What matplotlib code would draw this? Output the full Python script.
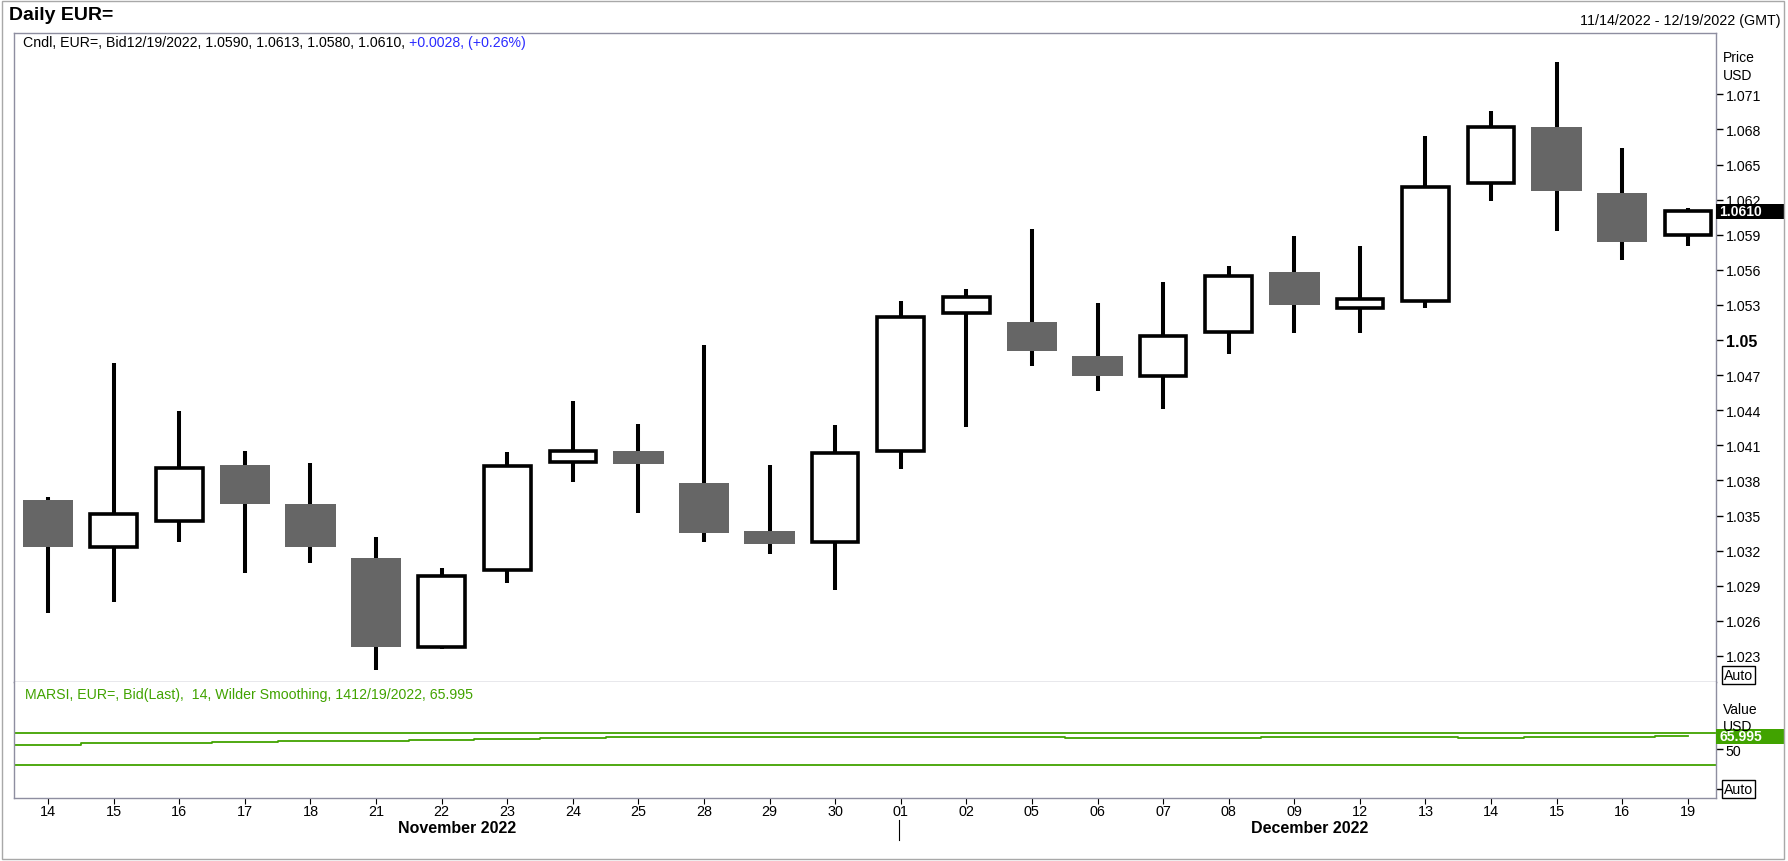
import numpy as np
import matplotlib
matplotlib.use("Agg")
import matplotlib.pyplot as plt
import matplotlib.transforms as mtransforms
from matplotlib.patches import Rectangle

plt.rcParams['font.family'] = ['Liberation Sans', 'DejaVu Sans']

# daily EUR= bid candles, 14 Nov - 19 Dec 2022
days = ["14", "15", "16", "17", "18", "21", "22", "23", "24", "25", "28", "29", "30",
        "01", "02", "05", "06", "07", "08", "09", "12", "13", "14", "15", "16", "19"]
opens = [1.0363, 1.0323, 1.0345, 1.0393, 1.0360, 1.0314, 1.0238, 1.0303, 1.0396, 1.0405, 1.0378, 1.0337, 1.0327,
         1.0405, 1.0523, 1.0515, 1.0486, 1.0469, 1.0507, 1.0558, 1.0527, 1.0533, 1.0634, 1.0682, 1.0626, 1.0590]
highs = [1.0366, 1.0480, 1.0439, 1.0405, 1.0395, 1.0332, 1.0305, 1.0404, 1.0448, 1.0428, 1.0496, 1.0393, 1.0427,
         1.0533, 1.0544, 1.0595, 1.0532, 1.0550, 1.0563, 1.0589, 1.0580, 1.0674, 1.0696, 1.0738, 1.0664, 1.0613]
lows = [1.0267, 1.0276, 1.0327, 1.0301, 1.0309, 1.0218, 1.0236, 1.0292, 1.0379, 1.0352, 1.0327, 1.0317, 1.0286,
        1.0390, 1.0426, 1.0478, 1.0456, 1.0441, 1.0488, 1.0506, 1.0506, 1.0527, 1.0619, 1.0593, 1.0568, 1.0580]
closes = [1.0323, 1.0351, 1.0391, 1.0360, 1.0323, 1.0238, 1.0298, 1.0392, 1.0405, 1.0394, 1.0335, 1.0326, 1.0403,
          1.0520, 1.0537, 1.0491, 1.0469, 1.0503, 1.0555, 1.0530, 1.0535, 1.0631, 1.0682, 1.0627, 1.0584, 1.0610]

# MARSI 14 (Wilder smoothing)
rsi = [55.8, 57.5, 57.5, 59.2, 60.4, 60.4, 61.25, 62.5, 63.75, 65.0, 65.0, 65.0, 65.0,
       65.0, 65.0, 65.0, 63.75, 63.75, 63.75, 65.0, 65.0, 65.0, 64.6, 65.9, 65.9, 65.995]
rsi_bands = [70, 30]

price_ticks = [1.023, 1.026, 1.029, 1.032, 1.035, 1.038, 1.041, 1.044, 1.047, 1.05,
               1.053, 1.056, 1.059, 1.062, 1.065, 1.068, 1.071]
price_labels = ["1.023", "1.026", "1.029", "1.032", "1.035", "1.038", "1.041", "1.044", "1.047", "1.05",
                "1.053", "1.056", "1.059", "1.062", "1.065", "1.068", "1.071"]

months = ["November 2022", "December 2022"]
month_centers = [6.23, 19.23]

legend_main = "Cndl, EUR=, Bid12/19/2022, 1.0590, 1.0613, 1.0580, 1.0610,"
legend_change = "+0.0028, (+0.26%)"
legend_rsi = "MARSI, EUR=, Bid(Last),  14, Wilder Smoothing, 1412/19/2022, 65.995"

GREEN = '#41a300'
GRAY_BODY = '#666666'
FRAME = '#8e8ea0'

W, H = 1788, 862


def fx(px):
    return px / W


def fy(py):
    return 1 - py / H


fig = plt.figure(figsize=(W / 100, H / 100), dpi=100)
ax = fig.add_axes([fx(14), fy(683), fx(1716) - fx(14), fy(34) - fy(683)])
ax2 = fig.add_axes([fx(14), fy(799), fx(1716) - fx(14), fy(683) - fy(799)])

x = np.arange(len(days))
o = np.array(opens)
h = np.array(highs)
l = np.array(lows)
c = np.array(closes)
up = c >= o
dn = ~up

# candles
ax.vlines(x, l, h, color='black', linewidth=2.9, zorder=2)
ax.bar(x[dn], (o - c)[dn], bottom=c[dn], width=0.77, color=GRAY_BODY, zorder=3)
ax.bar(x[up], (c - o)[up], bottom=o[up], width=0.71, facecolor='white',
       edgecolor='black', linewidth=2.6, zorder=3)

ax.set_xlim(-0.52, 25.43)
ax.set_ylim(1.02077, 1.07624)
ax.set_xticks([])
ax.yaxis.tick_right()
ax.set_yticks(price_ticks)
ax.set_yticklabels(price_labels)
ax.tick_params(axis='y', direction='out', length=5, width=1, colors='black', labelsize=10.2, pad=2)
for t in ax.get_yticklabels():
    if t.get_text() == "1.05":
        t.set_fontweight('bold')
        t.set_fontsize(11.5)
for s in ax.spines.values():
    s.set_color(FRAME)
    s.set_linewidth(1)

# last price tag
ylo, yhi = ax.get_ylim()
half = 7.8 * (yhi - ylo) / 649
trans = mtransforms.blended_transform_factory(ax.transAxes, ax.transData)
ax.add_patch(Rectangle((1.0, closes[-1] - half), 69 / 1702, 2 * half, transform=trans,
                       facecolor='black', edgecolor='none', clip_on=False, zorder=5))
ax.text(1.0 + 3 / 1702, closes[-1], f"{closes[-1]:.4f}", transform=trans, color='white',
        fontweight='bold', fontsize=10, va='center', ha='left', zorder=6, clip_on=False)

# RSI panel
ax2.set_xlim(-0.52, 25.43)
ax2.set_ylim(-10.9, 134.1)
for b in rsi_bands:
    ax2.axhline(b, color=GREEN, linewidth=1.3)
xs = np.r_[ax2.get_xlim()[0], x]
ys = np.r_[rsi[0], rsi]
ax2.step(xs, ys, where='mid', color=GREEN, linewidth=1.3)

ax2.set_xticks(x)
ax2.set_xticklabels(days)
ax2.tick_params(axis='x', direction='out', length=4, width=0.8, labelsize=10.4, pad=0)
ax2.yaxis.tick_right()
ax2.set_yticks([0, 50])
ax2.set_yticklabels(["", "50"])
ax2.tick_params(axis='y', direction='out', length=5, width=1, labelsize=10.2, pad=2)
for s in ax2.spines.values():
    s.set_color(FRAME)
    s.set_linewidth(1)
ax2.spines['top'].set_visible(False)

trans2 = mtransforms.blended_transform_factory(ax2.transAxes, ax2.transData)
r_lo, r_hi = ax2.get_ylim()
rhalf = 7.6 * (r_hi - r_lo) / 116
ax2.add_patch(Rectangle((1.0, rsi[-1] - rhalf), 69 / 1702, 2 * rhalf, transform=trans2,
                        facecolor=GREEN, edgecolor='none', clip_on=False, zorder=5))
ax2.text(1.0 + 3 / 1702, rsi[-1], f"{rsi[-1]:.3f}", transform=trans2, color='white',
         fontweight='bold', fontsize=10, va='center', ha='left', zorder=6, clip_on=False)

# month labels and divider
for name, mc in zip(months, month_centers):
    ax2.annotate(name, xy=(mc, 0), xycoords=('data', 'axes fraction'), xytext=(0, -30),
                 textcoords='offset pixels', ha='center', va='center',
                 fontweight='bold', fontsize=11.5)
trans3 = mtransforms.blended_transform_factory(ax2.transData, ax2.transAxes)
split = days.index("01")
ax2.plot([split - 0.02, split - 0.02], [-0.19, -0.36], color='black', linewidth=0.8,
         transform=trans3, clip_on=False)

# header and legends
fig.text(fx(9), fy(15), "Daily EUR=", fontsize=14, fontweight='bold', va='center')
fig.text(fx(1781), fy(21), "11/14/2022 - 12/19/2022 (GMT)", ha='right', va='center', fontsize=10.3)
t = fig.text(fx(23), fy(43), legend_main, fontsize=10.2, va='center')
ax.annotate(legend_change, xy=(1, 0.5), xycoords=t, xytext=(3, 0), textcoords='offset points',
            va='center', ha='left', fontsize=10.2, color='#2b2bff')
fig.text(fx(25), fy(695), legend_rsi, fontsize=10.2, va='center', color=GREEN)

fig.text(fx(1723), fy(58), "Price", fontsize=10, va='center')
fig.text(fx(1723), fy(76), "USD", fontsize=10, va='center')
fig.text(fx(1723), fy(710), "Value", fontsize=10, va='center')
fig.text(fx(1723), fy(727), "USD", fontsize=10, va='center', zorder=1)

auto_box = dict(boxstyle='square,pad=0.12', facecolor='white', edgecolor='black', linewidth=1)
fig.text(fx(1724), fy(676), "Auto", fontsize=10.2, va='center', bbox=auto_box)
fig.text(fx(1724), fy(790), "Auto", fontsize=10.2, va='center', bbox=auto_box)

# outer frame
fig.add_artist(Rectangle((0.001, 0.002), 0.997, 0.996, transform=fig.transFigure,
                         fill=False, edgecolor='#a8a8a8', linewidth=1))

fig.savefig("out.png", dpi=100)
